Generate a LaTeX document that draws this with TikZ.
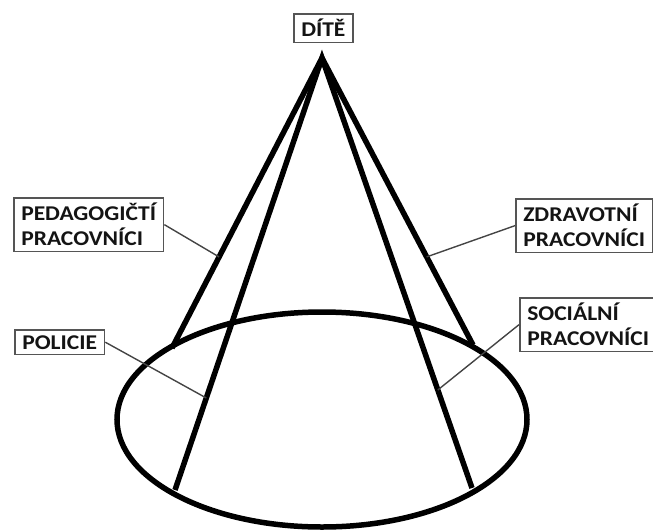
\documentclass[tikz,border=0pt]{standalone}
\usepackage{fontspec}
\newfontfamily\lblfont[FakeStretch=1.12]{Carlito}
\usetikzlibrary{calc}
\definecolor{boxgray}{HTML}{555555}
\definecolor{textc}{HTML}{141414}
\definecolor{leadc}{HTML}{444444}
\begin{document}
\begin{tikzpicture}[x=1pt,y=-1pt,
  lbl/.style={draw=boxgray, line width=1.5pt, font=\lblfont\bfseries\fontsize{21}{25}\selectfont, text=textc, align=left, inner xsep=7.5pt, inner ysep=5.5pt, anchor=north west},
  cone/.style={line width=5.5pt, line join=miter, miter limit=10},
  leader/.style={draw=leadc, line width=1.4pt}]
\useasboundingbox (0,0) rectangle (653,531);
\coordinate (apex) at (322,58);
\coordinate (pl) at (172,348);
\coordinate (bl) at (175,490);
\coordinate (br) at (472,488);
\coordinate (pr) at (473,345);
\draw[cone] (322,419.5) ellipse [x radius=205, y radius=107.5];
\draw[cone] (pl) -- (apex) -- (pr);
\draw[cone] (bl) -- (apex) -- (br);
\coordinate (tpl) at ($(apex)!0.686!(pl)$);
\coordinate (tbl) at ($(apex)!0.787!(bl)$);
\coordinate (tpr) at ($(apex)!0.693!(pr)$);
\coordinate (tbr) at ($(apex)!0.772!(br)$);
\node[lbl] (dite) at (293,13) {DÍTĚ};
\node[lbl] (ped) at (13,197) {PEDAGOGIČTÍ\\PRACOVNÍCI};
\node[lbl] (zdr) at (515,198) {ZDRAVOTNÍ\\PRACOVNÍCI};
\node[lbl] (pol) at (14,329) {POLICIE};
\node[lbl] (soc) at (519,297) {SOCIÁLNÍ\\PRACOVNÍCI};
\draw[leader] (ped.east) -- (tpl);
\draw[leader] (zdr.west) -- (tpr);
\draw[leader] (pol.east) -- (tbl);
\draw[leader] (soc.west) -- (tbr);
\end{tikzpicture}
\end{document}
